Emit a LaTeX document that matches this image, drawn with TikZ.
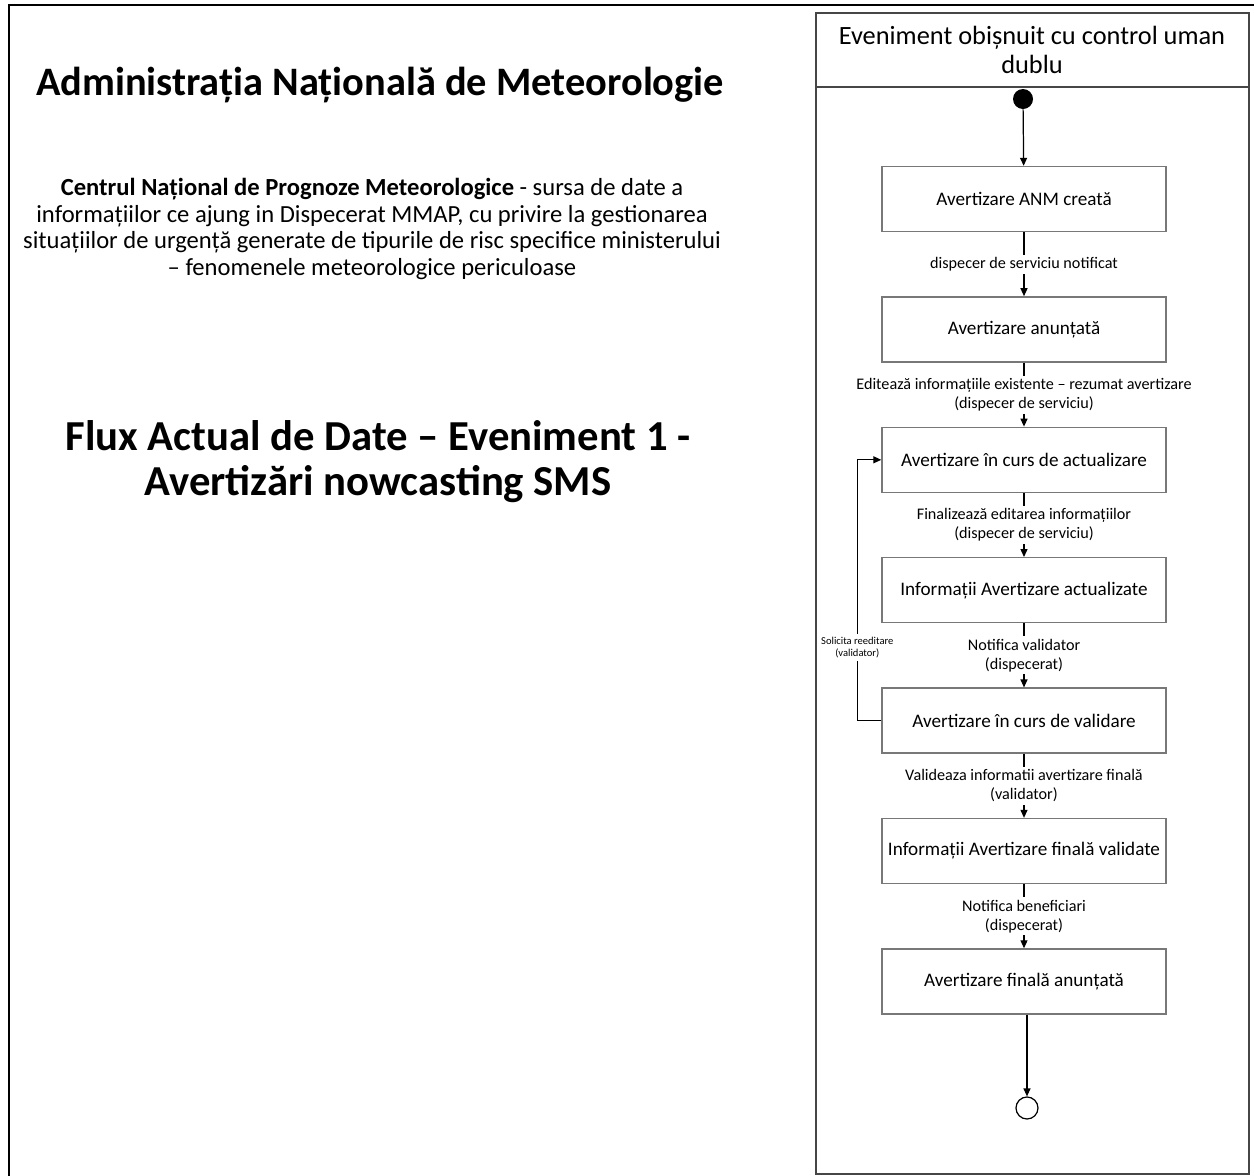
\documentclass[tikz,border=0pt]{standalone}
\usepackage{fontspec}
\setmainfont{Carlito}
\usetikzlibrary{arrows.meta,positioning}
\definecolor{anmGray}{RGB}{120,120,120}
\definecolor{anmDark}{RGB}{70,70,70}

\begin{document}
\begin{tikzpicture}[
  x=0.2mm, y=-0.2mm,
  state/.style={
    draw=anmGray,
    line width=0.8pt,
    minimum width=56.8mm,
    minimum height=13mm,
    align=center,
    font=\fontsize{10.9}{12.5}\selectfont
  },
  flow/.style={-{Triangle[length=1.6mm,width=1.4mm]},line width=0.7pt},
  lbl/.style={fill=white,align=center,inner sep=1.5pt,font=\fontsize{9.2}{10.8}\selectfont}
]
  \useasboundingbox (0,0) rectangle (1254,1176);
  \draw[line width=1.2pt] (1254,5) -- (9,5) -- (9,1176);

  % left side texts
  \node[font=\bfseries\fontsize{23}{27}\selectfont] (anm) at (380,85) {Administrația Națională de Meteorologie};
  \node[align=center,font=\fontsize{14}{15.3}\selectfont] (cnpm) at (372,229) {\textbf{Centrul Național de Prognoze Meteorologice} - sursa de date a\\informațiilor ce ajung in Dispecerat MMAP, cu privire la gestionarea\\situațiilor de urgență generate de tipurile de risc specifice ministerului\\– fenomenele meteorologice periculoase};
  \node[align=center,font=\bfseries\fontsize{24.3}{25.5}\selectfont] (flux) at (378,462) {Flux Actual de Date – Eveniment 1 -\\Avertizări nowcasting SMS};

  % swimlane
  \draw[anmDark,line width=0.8pt] (816,13) rectangle (1249,1174);
  \draw[anmDark,line width=0.8pt] (816,87) -- (1249,87);
  \node[align=center,font=\fontsize{15}{16.5}\selectfont] (lane) at (1032,50) {Eveniment obișnuit cu control uman\\dublu};

  \node[circle,fill=black,inner sep=0pt,minimum size=4mm] (start) at (1023,99) {};
  \node[state] (created) at (1024,199) {Avertizare ANM creată};
  \node[state,below=12.8mm of created] (announced) {Avertizare anunțată};
  \node[state,below=12.8mm of announced] (updating) {Avertizare în curs de actualizare};
  \node[state,below=12.8mm of updating] (updated) {Informații Avertizare actualizate};
  \node[state,below=12.8mm of updated] (validating) {Avertizare în curs de validare};
  \node[state,below=12.8mm of validating] (validated) {Informații Avertizare finală validate};
  \node[state,below=12.8mm of validated] (final) {Avertizare finală anunțată};
  \node[circle,draw,line width=0.7pt,inner sep=0pt,minimum size=4.4mm] (end) at (1027,1108) {};

  \draw[flow] (start) -- (created);
  \draw[flow] (created) -- node[lbl] {dispecer de serviciu notificat} (announced);
  \draw[flow] (announced) -- node[lbl] {Editează informațiile existente – rezumat avertizare\\(dispecer de serviciu)} (updating);
  \draw[flow] (updating) -- node[lbl] {Finalizează editarea informațiilor\\(dispecer de serviciu)} (updated);
  \draw[flow] (updated) -- node[lbl] {Notifica validator\\(dispecerat)} (validating);
  \draw[flow] (validating) -- node[lbl] {Valideaza informatii avertizare finală\\(validator)} (validated);
  \draw[flow] (validated) -- node[lbl] {Notifica beneficiari\\(dispecerat)} (final);
  \draw[flow] (end |- final.south) -- (end);
  \draw[flow] (validating.west) -- ++(-24,0) |- node[lbl,pos=0.14,font=\fontsize{6}{7.2}\selectfont] {Solicita reeditare\\(validator)} (updating.west);
\end{tikzpicture}
\end{document}
